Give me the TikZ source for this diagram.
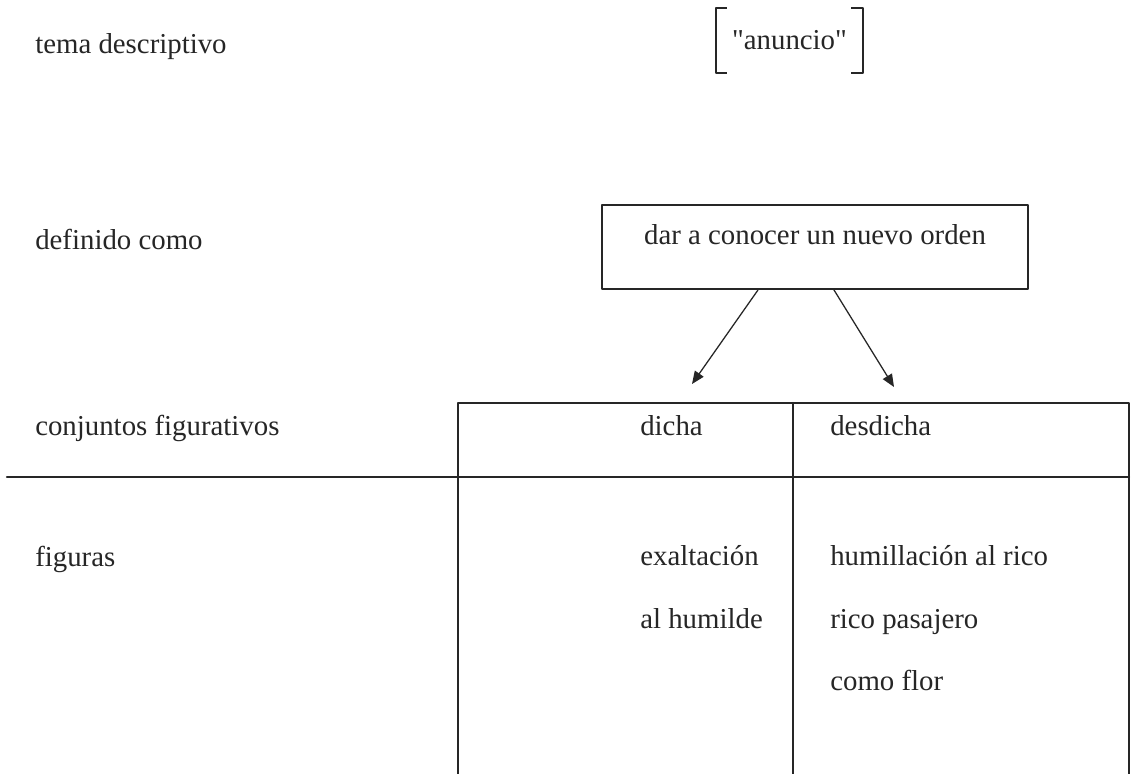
\documentclass[tikz,border=0pt]{standalone}
\usepackage{fontspec}
\setmainfont{Liberation Serif}
\newfontfamily\plainserif{Liberation Serif}
\usetikzlibrary{arrows.meta}
\definecolor{ink}{HTML}{262626}
\begin{document}
\begin{tikzpicture}[x=0.025cm,y=-0.025cm,line cap=round,line join=round]
  \tikzset{
    rowtext/.style={anchor=base west,inner sep=0pt,text=ink,font=\fontsize{20.5}{24}\selectfont},
    rule/.style={draw=ink,line width=1.5pt},
    bracket/.style={draw=ink,line width=1.4pt,line cap=butt},
    pointer/.style={draw=ink,line width=0.9pt,-{Triangle[length=9pt,width=7.5pt]}}
  }
  \useasboundingbox[fill=white] (0,0) rectangle (1133,774);
  % row labels on the left
  \node[rowtext] (tema) at (35,54) {tema descriptivo};
  \node[rowtext] (definido) at (35,250) {definido como};
  \node[rowtext] (conjuntos) at (35,436) {conjuntos figurativos};
  \node[rowtext] (figuras) at (35,566) {figuras};
  % the theme, set between square brackets
  \node[inner sep=0pt,minimum width=3.675cm,minimum height=1.625cm,text=ink,
    font=\plainserif\fontsize{20.5}{24}\selectfont] (anuncio) at (789.5,40.5) {"anuncio"};
  \draw[bracket] ([xshift=0.27cm]anuncio.north west) -- (anuncio.north west)
    -- (anuncio.south west) -- ([xshift=0.27cm]anuncio.south west);
  \draw[bracket] ([xshift=-0.3cm]anuncio.north east) -- (anuncio.north east)
    -- (anuncio.south east) -- ([xshift=-0.3cm]anuncio.south east);
  % definition box
  \node[draw=ink,line width=1.4pt,inner sep=0pt,minimum width=10.65cm,
    text height=1.0cm,text depth=1.1cm,text=ink,
    font=\fontsize{20.5}{24}\selectfont] (orden) at (815,247) {dar a conocer un nuevo orden};
  \coordinate (dichatip) at (692,384);
  \coordinate (desdichatip) at (894,387);
  \draw[pointer] ([xshift=-1.425cm]orden.south) -- (dichatip);
  \draw[pointer] ([xshift=0.475cm]orden.south) -- (desdichatip);
  % table of the two sets
  \draw[rule] (458,774) -- (458,403) -- (1129,403) -- (1129,774);
  \draw[rule] (793,403) -- (793,774);
  \draw[rule] (7,477) -- (1129,477);
  \node[rowtext] (dicha) at (640,436) {dicha};
  \node[rowtext] (desdicha) at (830,436) {desdicha};
  \node[rowtext] (exaltacion) at (640,565) {exaltación};
  \node[rowtext] (humilde) at (640,628) {al humilde};
  \node[rowtext] (humillacion) at (830,565) {humillación al rico};
  \node[rowtext] (pasajero) at (830,628) {rico pasajero};
  \node[rowtext] (flor) at (830,690) {como flor};
\end{tikzpicture}
\end{document}
